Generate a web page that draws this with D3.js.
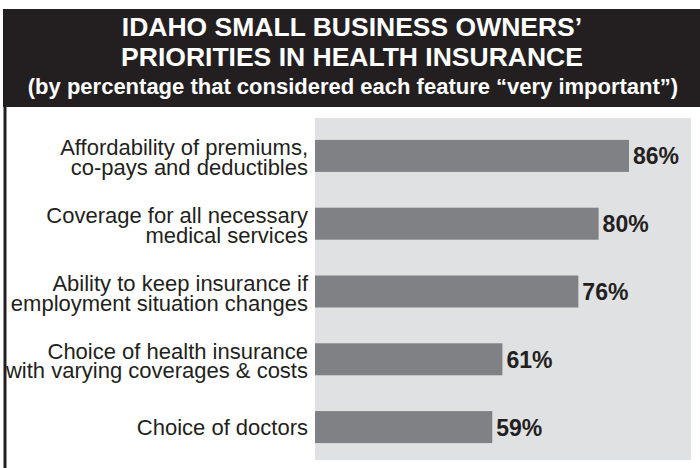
<!DOCTYPE html>
<html>
<head>
<meta charset="utf-8">
<script src="https://cdn.jsdelivr.net/npm/d3@7"></script>
<style>
    body { margin: 0; background: #fff; }
    svg { display: block; }
</style>
</head>
<body>
<svg id="canvas"></svg>
<script>
const titleLines = ["IDAHO SMALL BUSINESS OWNERS\u2019", "PRIORITIES IN HEALTH INSURANCE"];
const subtitle = "(by percentage that considered each feature \u201cvery important\u201d)";

const categories = [
    ["Affordability of premiums,", "co-pays and deductibles"],
    ["Coverage for all necessary", "medical services"],
    ["Ability to keep insurance if", "employment situation changes"],
    ["Choice of health insurance", "with varying coverages & costs"],
    ["Choice of doctors"]
];
const values = [86, 80, 76, 61, 59];

// bars in the original don't start at zero
const scaleStart = 24;

const width = 700, height = 468;
const dark = "#231f20";

const canvas = d3.select("#canvas")
    .attr("width", width)
    .attr("height", height);

// header block + left rule
canvas.append("rect")
    .attr("x", 3).attr("y", 9)
    .attr("width", width - 3).attr("height", 98)
    .attr("fill", dark);

canvas.append("rect")
    .attr("x", 3.5).attr("y", 107)
    .attr("width", 3).attr("height", height - 107)
    .attr("fill", dark);

canvas.selectAll(".title")
    .data(titleLines)
    .enter()
    .append("text")
    .attr("class", "title")
    .attr("x", 352)
    .attr("y", (d, i) => 36 + i * 29.5)
    .attr("text-anchor", "middle")
    .attr("fill", "#fff")
    .style("font-family", "Liberation Sans, Arial, sans-serif")
    .style("font-weight", "bold")
    .style("font-size", "26.5px")
    .text(d => d);

canvas.append("text")
    .attr("x", 353)
    .attr("y", 94)
    .attr("text-anchor", "middle")
    .attr("fill", "#fff")
    .style("font-family", "Liberation Sans, Arial, sans-serif")
    .style("font-weight", "bold")
    .style("font-size", "22px")
    .text(subtitle);

// plot area
const plotLeft = 315, plotRight = 691, plotTop = 118, plotBottom = 460;

canvas.append("rect")
    .attr("x", plotLeft).attr("y", plotTop)
    .attr("width", plotRight - plotLeft).attr("height", plotBottom - plotTop)
    .attr("fill", "#e0e1e3");

const yScale = d3.scaleBand()
    .domain(d3.range(values.length))
    .range([122, 461])
    .paddingInner(0.528)
    .paddingOuter(0.264);

const xScale = d3.scaleLinear()
    .domain([scaleStart, 86])
    .range([plotLeft, 629]);

canvas.selectAll(".bar")
    .data(values)
    .enter()
    .append("rect")
    .attr("class", "bar")
    .attr("x", xScale(scaleStart))
    .attr("y", (d, i) => yScale(i))
    .attr("width", d => xScale(d) - xScale(scaleStart))
    .attr("height", yScale.bandwidth())
    .attr("fill", "#808184");

canvas.selectAll(".value")
    .data(values)
    .enter()
    .append("text")
    .attr("class", "value")
    .attr("x", d => xScale(d) + 4)
    .attr("y", (d, i) => yScale(i) + yScale.bandwidth() / 2 + 8.5)
    .attr("fill", dark)
    .style("font-family", "Liberation Sans, Arial, sans-serif")
    .style("font-weight", "bold")
    .style("font-size", "23px")
    .text(d => d + "%");

const labels = canvas.selectAll(".label")
    .data(categories)
    .enter()
    .append("text")
    .attr("class", "label")
    .attr("text-anchor", "end")
    .attr("fill", dark)
    .style("font-family", "Liberation Sans, Arial, sans-serif")
    .style("font-size", "22px");

labels.selectAll("tspan")
    .data((lines, i) => lines.map((line, j) => {
        const mid = yScale(i) + yScale.bandwidth() / 2;
        const first = lines.length === 1 ? mid + 8 : mid - 0.5;
        return { line, y: first + j * 19.5 };
    }))
    .enter()
    .append("tspan")
    .attr("x", 308)
    .attr("y", d => d.y)
    .text(d => d.line);
</script>
</body>
</html>
